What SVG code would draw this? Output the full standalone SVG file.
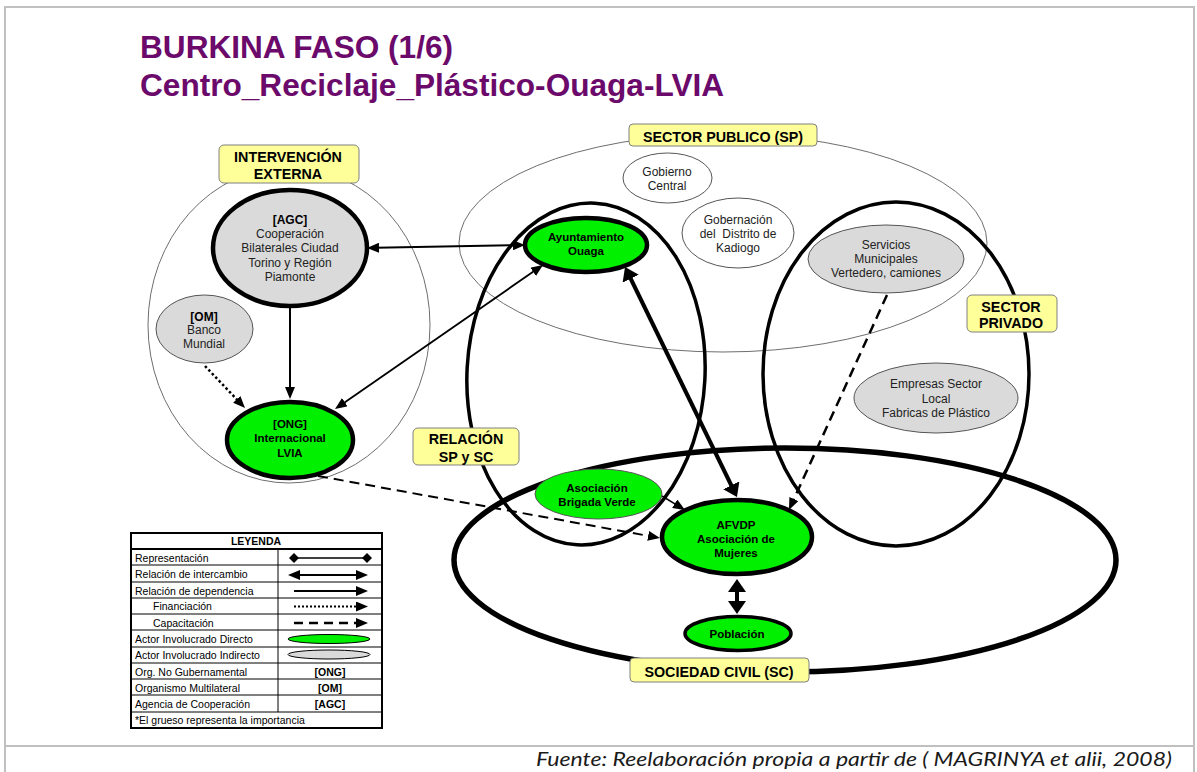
<svg xmlns="http://www.w3.org/2000/svg" width="1197" height="772" viewBox="0 0 1197 772">
<defs>
<marker id="ah" viewBox="0 0 12 10" refX="3" refY="5" markerWidth="12" markerHeight="10" markerUnits="userSpaceOnUse" orient="auto-start-reverse"><path d="M0,0 L12,5 L0,10 z" fill="#000"/></marker>
<marker id="ahL" viewBox="0 0 13 18" refX="3" refY="9" markerWidth="13" markerHeight="18" markerUnits="userSpaceOnUse" orient="auto-start-reverse"><path d="M0,0 L13,9 L0,18 z" fill="#000"/></marker>
<marker id="dia" viewBox="0 0 10 10" refX="5" refY="5" markerWidth="10" markerHeight="10" markerUnits="userSpaceOnUse"><path d="M0,5 L5,0 L10,5 L5,10 z" fill="#000"/></marker>
</defs>
<style>
text{font-family:"Liberation Sans",Arial,Helvetica,sans-serif}
.title{font-size:31.6px;font-weight:bold;fill:#6b0a6b}
.lbl rect{fill:#ffff99;stroke:#808080;stroke-width:1}
.lbl text{font-size:14.3px;font-weight:bold;text-anchor:middle;fill:#000}
.zone{fill:none;stroke:#000;stroke-width:3.5}
.zthin{fill:none;stroke:#6e6e6e;stroke-width:1}
.ng{fill:#dadada}
.ngr{fill:#00f000}
.nw{fill:#fff}
.s1{stroke:#555;stroke-width:1}
.s4{stroke:#000;stroke-width:4.5}
.s3{stroke:#000;stroke-width:3.5}
.nt{font-size:12px;text-anchor:middle;fill:#222}
.nb{font-size:11.5px;font-weight:bold;text-anchor:middle;fill:#000}
.c{fill:none;stroke:#000}
.lg{font-size:10.5px;fill:#000}
.lgb{font-size:10.5px;font-weight:bold;fill:#000;text-anchor:middle}
.frame{stroke:#c0c0c0;stroke-width:2;fill:none}
</style>

<g id="frame">
<path class="frame" d="M5,772 V7 H1194 V772 M5,746 H1194"/>
</g>

<g id="title">
<text class="title" x="140" y="58">BURKINA FASO (1/6)</text>
<text class="title" x="140" y="96">Centro_Reciclaje_Plástico-Ouaga-LVIA</text>
</g>

<g id="zones">
<ellipse id="zone-intervencion" class="zthin" cx="289" cy="325" rx="141" ry="158"/>
<ellipse id="zone-sp" class="zthin" cx="723" cy="243" rx="264" ry="109"/>
<ellipse id="zone-relacion" class="zone" cx="586" cy="374" rx="119" ry="171" transform="rotate(3 586 374)"/>
<ellipse id="zone-privado" class="zone" cx="896" cy="374" rx="133" ry="172"/>
<ellipse id="zone-sc" class="zone" style="stroke-width:5.5" cx="785" cy="560" rx="331" ry="112"/>
</g>

<g id="labels">
<g class="lbl" id="lbl-intervencion"><rect x="219" y="145" width="140" height="38" rx="5"/><text x="288" y="162">INTERVENCIÓN</text><text x="288" y="179">EXTERNA</text></g>
<g class="lbl" id="lbl-sp"><rect x="629" y="124" width="188" height="22" rx="4"/><text x="723" y="141.5">SECTOR PUBLICO (SP)</text></g>
<g class="lbl" id="lbl-privado"><rect x="967" y="295" width="90" height="37" rx="5"/><text x="1011" y="312">SECTOR</text><text x="1011" y="328">PRIVADO</text></g>
<g class="lbl" id="lbl-relacion"><rect x="413" y="428" width="106" height="37" rx="5"/><text x="466" y="444">RELACIÓN</text><text x="466" y="461.5">SP y SC</text></g>
<g class="lbl" id="lbl-sc"><rect x="630" y="658" width="179" height="24" rx="4"/><text x="719" y="676.5">SOCIEDAD CIVIL (SC)</text></g>
</g>

<g id="connectors">
<path class="c" stroke-width="2" d="M376,247.8 L516,245.2" marker-start="url(#ah)" marker-end="url(#ah)"/>
<path class="c" stroke-width="1.8" d="M342.4,403.9 L535.6,270.1" marker-start="url(#ah)" marker-end="url(#ah)"/>
<path class="c" stroke-width="2" d="M290,307 L290,390" marker-end="url(#ah)"/>
<path class="c" stroke-width="2.5" stroke-dasharray="2.5 2.5" d="M205,366 L238.8,401.5" marker-end="url(#ah)"/>
<path class="c" stroke-width="2" stroke-dasharray="10 6" d="M318,476 L651.1,536.4" marker-end="url(#ah)"/>
<path class="c" stroke-width="1.5" d="M662,496 L677.3,505.3" marker-end="url(#ah)"/>
<path class="c" stroke-width="2.5" stroke-dasharray="10 6" d="M887,295 L792.7,501.8" marker-end="url(#ah)"/>
<path class="c" stroke-width="4" d="M629.4,276 L732.6,488" marker-start="url(#ahL)" marker-end="url(#ahL)"/>
<path class="c" stroke-width="4" d="M737,589 L737,604" marker-start="url(#ahL)" marker-end="url(#ahL)"/>
</g>

<g id="node-agc">
<ellipse class="ng s4" cx="290" cy="248" rx="77" ry="58"/>
<text class="nb" x="290" y="224" style="font-size:12px">[AGC]</text>
<text class="nt" x="290" y="238">Cooperación</text>
<text class="nt" x="290" y="252">Bilaterales Ciudad</text>
<text class="nt" x="290" y="266.5">Torino y Región</text>
<text class="nt" x="290" y="280.5">Piamonte</text>
</g>
<g id="node-om">
<ellipse class="ng s1" cx="204.5" cy="329" rx="48.5" ry="34"/>
<text class="nb" x="204" y="321" style="font-size:12px">[OM]</text>
<text class="nt" x="204" y="334">Banco</text>
<text class="nt" x="204" y="348">Mundial</text>
</g>
<g id="node-lvia">
<ellipse class="ngr s4" cx="290" cy="440" rx="63" ry="38"/>
<text class="nb" x="290" y="428">[ONG]</text>
<text class="nb" x="290" y="442">Internacional</text>
<text class="nb" x="290" y="457">LVIA</text>
</g>
<g id="node-ayuntamiento">
<ellipse class="ngr s4" cx="586" cy="245" rx="61" ry="27"/>
<text class="nb" x="586" y="241">Ayuntamiento</text>
<text class="nb" x="586" y="255">Ouaga</text>
</g>
<g id="node-gobierno">
<ellipse class="nw s1" cx="667.5" cy="178" rx="44.5" ry="25"/>
<text class="nt" x="667" y="176">Gobierno</text>
<text class="nt" x="667" y="190">Central</text>
</g>
<g id="node-gobernacion">
<ellipse class="nw s1" cx="738" cy="233" rx="56" ry="35"/>
<text class="nt" x="738" y="224">Gobernación</text>
<text class="nt" x="738" y="238" xml:space="preserve">del  Distrito de</text>
<text class="nt" x="738" y="252">Kadiogo</text>
</g>
<g id="node-servicios">
<ellipse class="ng s1" cx="886" cy="259" rx="78" ry="34"/>
<text class="nt" x="886" y="249">Servicios</text>
<text class="nt" x="886" y="263">Municipales</text>
<text class="nt" x="886" y="277">Vertedero, camiones</text>
</g>
<g id="node-empresas">
<ellipse class="ng s1" cx="936" cy="398" rx="82" ry="35"/>
<text class="nt" x="936" y="388">Empresas Sector</text>
<text class="nt" x="936" y="403">Local</text>
<text class="nt" x="936" y="416.5">Fabricas de Plástico</text>
</g>
<g id="node-brigada">
<ellipse class="ngr s1" cx="598.5" cy="494" rx="63.5" ry="25"/>
<text class="nb" x="597" y="492">Asociación</text>
<text class="nb" x="597" y="506">Brigada Verde</text>
</g>
<g id="node-afvdp">
<ellipse class="ngr s4" cx="737" cy="537" rx="75" ry="37"/>
<text class="nb" x="736" y="529">AFVDP</text>
<text class="nb" x="736" y="543">Asociación de</text>
<text class="nb" x="736" y="557">Mujeres</text>
</g>
<g id="node-poblacion">
<ellipse class="ngr s3" cx="738" cy="633.5" rx="53" ry="17"/>
<text class="nb" x="737" y="637.5">Población</text>
</g>

<g id="legend">
<rect x="131" y="533" width="251" height="195" fill="#fff" stroke="#000" stroke-width="2"/>
<path stroke="#000" stroke-width="1" fill="none" d="M131,565 H382 M131,582 H382 M131,598 H382 M131,614 H382 M131,630 H382 M131,647 H382 M131,663 H382 M131,679 H382 M131,695 H382 M131,712 H382 M278,549 V712"/>
<path stroke="#000" stroke-width="2" d="M131,549 H382"/>
<text class="lgb" x="256" y="545">LEYENDA</text>
<text class="lg" x="135" y="562">Representación</text>
<text class="lg" x="135" y="578">Relación de intercambio</text>
<text class="lg" x="135" y="594.5">Relación de dependencia</text>
<text class="lg" x="153" y="610">Financiación</text>
<text class="lg" x="153" y="626.5">Capacitación</text>
<text class="lg" x="135" y="643">Actor Involucrado Directo</text>
<text class="lg" x="135" y="659">Actor Involucrado Indirecto</text>
<text class="lg" x="135" y="675.5">Org. No Gubernamental</text>
<text class="lg" x="135" y="691.5">Organismo Multilateral</text>
<text class="lg" x="135" y="708">Agencia de Cooperación</text>
<text class="lg" x="135" y="724">*El grueso representa la importancia</text>
<path class="c" stroke-width="1.5" d="M294,558 H367" marker-start="url(#dia)" marker-end="url(#dia)"/>
<path class="c" stroke-width="2" d="M297,575 H359" marker-start="url(#ah)" marker-end="url(#ah)"/>
<path class="c" stroke-width="2" d="M294,591 H359" marker-end="url(#ah)"/>
<path class="c" stroke-width="2" stroke-dasharray="2 2" d="M294,606.5 H359" marker-end="url(#ah)"/>
<path class="c" stroke-width="2.5" stroke-dasharray="9 6" d="M294,623 H359" marker-end="url(#ah)"/>
<ellipse cx="329" cy="639" rx="41" ry="4.5" fill="#00f000" stroke="#000" stroke-width="1"/>
<ellipse cx="329" cy="654.5" rx="41" ry="4.5" fill="#dadada" stroke="#000" stroke-width="1"/>
<text class="lgb" x="330" y="676">[ONG]</text>
<text class="lgb" x="330" y="692">[OM]</text>
<text class="lgb" x="330" y="708">[AGC]</text>
</g>

<g id="footer">
<text x="536" y="766" textLength="636" lengthAdjust="spacingAndGlyphs" style="font-family:Lato,'Liberation Sans',sans-serif;font-style:italic;font-size:19px;fill:#1a1a1a">Fuente: Reelaboración propia a partir de ( MAGRINYA et alii, 2008)</text>
</g>
</svg>
